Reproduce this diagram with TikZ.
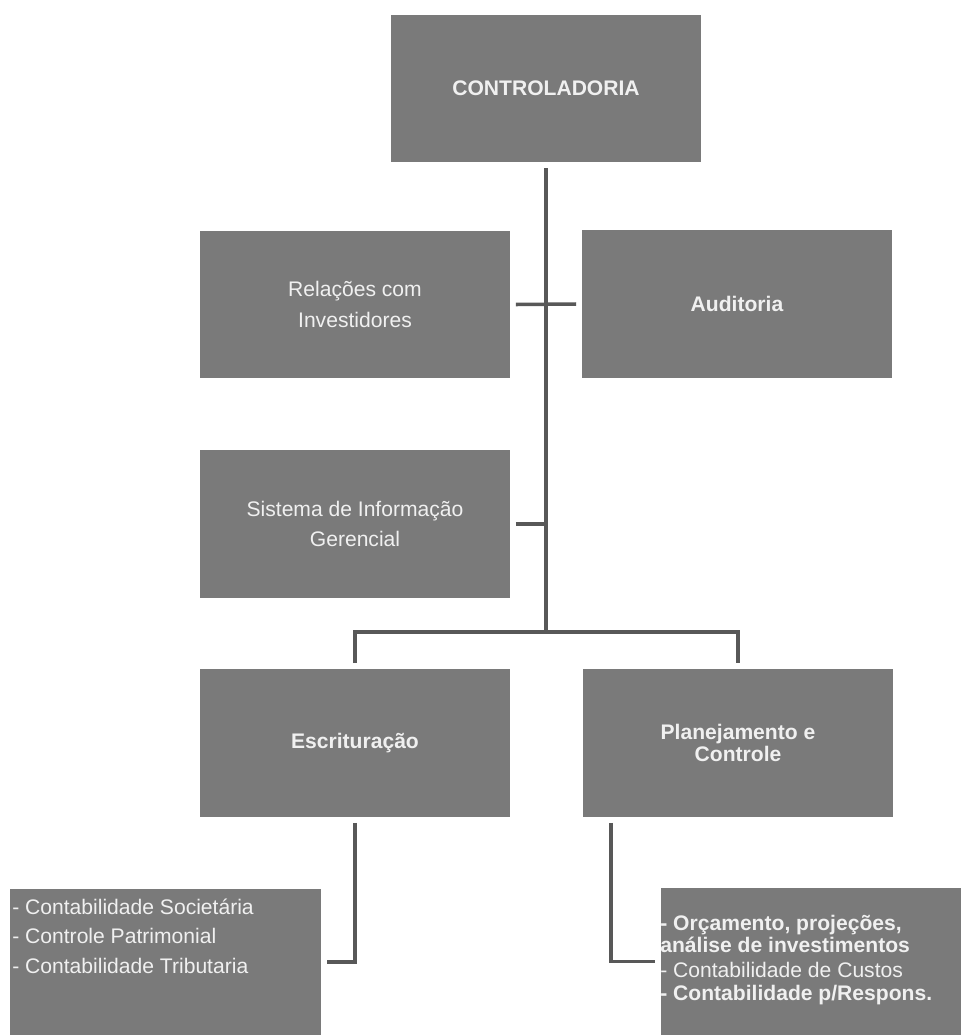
\documentclass[tikz,border=0pt]{standalone}
\usepackage{fontspec}
\setmainfont{Liberation Sans}
\definecolor{boxgray}{RGB}{122,122,122}
\definecolor{linegray}{RGB}{88,88,88}
\definecolor{textwhite}{RGB}{240,240,240}
\begin{document}
\begin{tikzpicture}[x=0.02cm,y=-0.02cm]
  \tikzstyle{box}=[fill=boxgray,text=textwhite,minimum width=6.2cm,minimum height=2.96cm,
    inner sep=0pt,outer sep=0.12cm,align=center,font=\fontsize{12}{17.5}\selectfont]
  \tikzstyle{bbox}=[box,font=\fontsize{12}{12.5}\selectfont\bfseries]
  \tikzstyle{list}=[anchor=north west,inner sep=0pt,align=left,text=textwhite]
  \tikzstyle{link}=[draw=linegray,line width=2pt]
  \useasboundingbox (0,0) rectangle (961,1035);
  % boxes
  \node[bbox] (ctrl) at (546,88.5) {CONTROLADORIA};
  \node[box] (rel) at (355,304.5) {Relações com\\Investidores};
  \node[bbox] (aud) at (737,304) {Auditoria};
  \node[box] (sig) at (355,524) {Sistema de Informação\\Gerencial};
  \node[bbox] (esc) at (355,743) {Escrituração};
  \node[bbox] (plc) at (738,743) {Planejamento e\\Controle};
  \node[box,minimum width=6.22cm,minimum height=2.92cm] (cont) at (165.5,962) {};
  \node[box,minimum width=6.0cm,minimum height=2.94cm] (orc) at (811,961.5) {};
  \node[list,font=\fontsize{12}{16.8}\selectfont] (contlist) at (12,898.5)
    {- Contabilidade Societária\\- Controle Patrimonial\\- Contabilidade Tributaria};
  \node[list,font=\fontsize{12}{10.8}\selectfont] (orclist) at (660,915)
    {{\bfseries - Orçamento, projeções,}\\{\bfseries análise de investimentos}\\[3.4pt]
     - Contabilidade de Custos\\[2.2pt]{\bfseries - Contabilidade p/Respons.}};
  % connectors
  \coordinate (bar) at (546,632);
  \draw[link] (ctrl.south) -- (bar);
  \draw[link] (rel.east) -- (aud.west);
  \draw[link] (sig.east) -- (sig.east -| bar);
  \draw[link] (esc.north) |- (bar) -| (plc.north);
  \draw[link] (esc.south) |- (cont.east);
  \draw[link] ([xshift=0.68cm]plc.south west) |- (orc.west);
\end{tikzpicture}
\end{document}
